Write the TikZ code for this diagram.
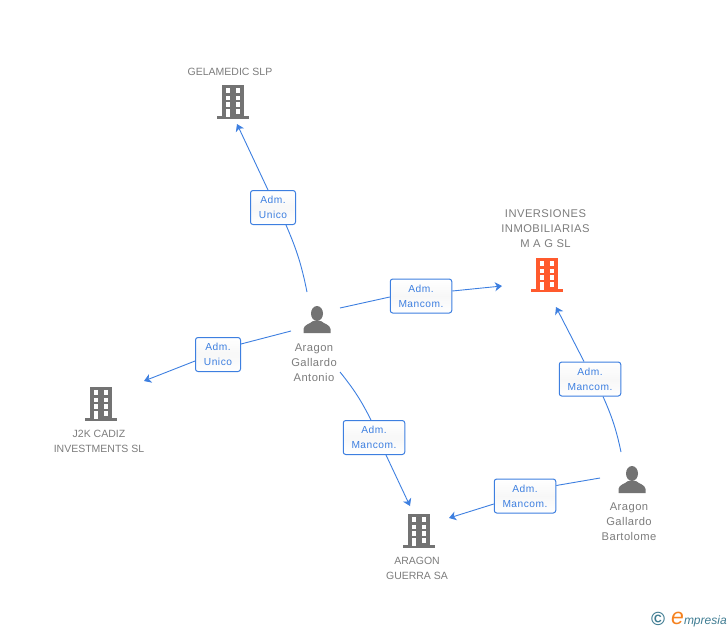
\documentclass[tikz,border=0pt]{standalone}
\usepackage{fontspec}
\setmainfont{Liberation Sans}
\usetikzlibrary{arrows.meta}
\definecolor{linkblue}{HTML}{3D7FE0}
\definecolor{icongrey}{HTML}{737373}
\definecolor{textgrey}{HTML}{7C7C7C}
\definecolor{iconred}{HTML}{FF5A2D}
\definecolor{logoteal}{HTML}{3F7C92}
\definecolor{logoorange}{HTML}{F58220}
\tikzset{
    link/.style={linkblue,line width=0.9pt},
    tip/.style={link,-{Stealth[length=7pt,width=9pt,inset=2pt]}},
    role/.style={draw=linkblue,line width=1pt,rounded corners=2.5pt,top color=white,bottom color=white,middle color=black!3,
        text=linkblue,font=\fontsize{10.2}{15}\selectfont\addfontfeature{LetterSpace=5},align=center,inner sep=0pt,minimum height=34pt},
    unico/.style={role,minimum width=45pt},
    mancom/.style={role,minimum width=61.5pt},
    caption/.style={text=textgrey,font=\fontsize{10.5}{15}\selectfont,align=center,inner sep=0pt},
    widecaption/.style={caption,font=\fontsize{11.2}{15}\selectfont\addfontfeature{LetterSpace=4}},
}
% building icon: x, y of the centre, colour
\newcommand{\bldg}[3]{
    \begin{scope}[shift={(#1,#2)}]
        \fill[#3] (-11,-17) rectangle (11,15);
        \fill[#3] (-16,14) rectangle (16,16.5);
        \foreach \wy in {-13.7,-6.3,0.3,7}
            \fill[white] (2.7,\wy) rectangle +(4.4,4.7);
        \foreach \wy in {-13.7,-6.3,0.3}
            \fill[white] (-7.3,\wy) rectangle +(4.4,4.7);
        \fill[white] (-7.3,7) rectangle (-2.9,14.5);
    \end{scope}
}
% person icon: x, y of the centre
\newcommand{\persona}[2]{
    \begin{scope}[shift={(#1,#2)}]
        \fill[icongrey] (0,-6.5) ellipse (6 and 7.5);
        \fill[icongrey] (-13.5,13) -- (-13.5,9) .. controls (-13,4.5) and (-7,4) .. (-4,1)
            -- (4,1) .. controls (7,4) and (13,4.5) .. (13.5,9) -- (13.5,13) -- cycle;
    \end{scope}
}
\begin{document}
\begin{tikzpicture}[x=1pt,y=-1pt]
    \useasboundingbox (0,0) rectangle (728,630);

    \bldg{233}{102}{icongrey}
    \bldg{547}{275}{iconred}
    \bldg{101}{404}{icongrey}
    \bldg{419}{531}{icongrey}
    \persona{317}{320}
    \persona{632}{480}

    \node[caption] (gelamedic) at (230,71.5) {GELAMEDIC SLP};
    \node[widecaption] (inversiones) at (545.5,228.5) {INVERSIONES\\INMOBILIARIAS\\M A G SL};
    \node[widecaption] (antonio) at (314,363) {Aragon\\Gallardo\\Antonio};
    \node[widecaption] (bartolome) at (629,522) {Aragon\\Gallardo\\Bartolome};
    \node[caption] (j2k) at (99,441) {J2K CADIZ\\INVESTMENTS SL};
    \node[caption] (guerra) at (417,568) {ARAGON\\GUERRA SA};

    \node[unico] (rgel) at (273,207.5) {Adm.\\Unico};
    \node[mancom] (rinv) at (421,296) {Adm.\\Mancom.};
    \node[unico] (rj2k) at (218,354.5) {Adm.\\Unico};
    \node[mancom] (rgue) at (374,437.5) {Adm.\\Mancom.};
    \node[mancom] (rbar) at (590,379) {Adm.\\Mancom.};
    \node[mancom] (rbgu) at (525,496) {Adm.\\Mancom.};

    \coordinate (a1) at (307,292);
    \coordinate (a2) at (340,308);
    \coordinate (a3) at (291,331);
    \coordinate (a4) at (340,372);
    \coordinate (b1) at (621,452);
    \coordinate (b2) at (600,478);
    \coordinate (t1) at (237,124);
    \coordinate (t2) at (502,286);
    \coordinate (t3) at (144,381);
    \coordinate (t4) at (410,506);
    \coordinate (t5) at (556,307);
    \coordinate (t6) at (449,518);

    \draw[link] (a1) to[bend right=6] ([xshift=13pt]rgel.south);
    \draw[tip] ([xshift=-5pt]rgel.north) -- (t1);
    \draw[link] (a2) -- ([yshift=-1pt]rinv.west);
    \draw[tip] ([yshift=5pt]rinv.east) -- (t2);
    \draw[link] (a3) -- ([yshift=10.5pt]rj2k.east);
    \draw[tip] ([yshift=-6.5pt]rj2k.west) -- (t3);
    \draw[link] (a4) to[bend left=6] ([xshift=-3pt]rgue.north);
    \draw[tip] ([xshift=12pt]rgue.south) -- (t4);
    \draw[link] (b1) to[bend right=6] ([xshift=13pt]rbar.south);
    \draw[tip] ([xshift=-6pt]rbar.north) -- (t5);
    \draw[link] (b2) -- ([yshift=10.5pt]rbgu.east);
    \draw[tip] ([yshift=-8pt]rbgu.west) -- (t6);

    \node[text=logoteal,font=\bfseries\fontsize{19}{19}\selectfont,inner sep=0pt] (copyr) at (658,619) {©};
    \node[anchor=base west,inner sep=0pt,font=\itshape\fontsize{12}{12}\selectfont,text=logoteal] (logo) at (671,624)
        {\textcolor{logoorange}{\fontsize{23}{23}\selectfont e}mpresia};
\end{tikzpicture}
\end{document}
